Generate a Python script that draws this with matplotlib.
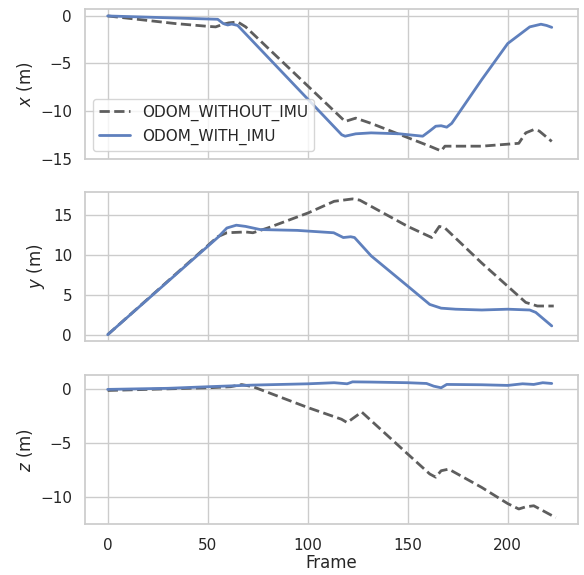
import matplotlib
matplotlib.use("Agg")
import matplotlib.pyplot as plt
import seaborn as sns

# values: (frame, metres)
x_without_f = [0, 33.8, 50.4, 54, 57.8, 60.5, 65, 69, 118.7, 124, 131.7, 150, 161, 166.7, 168.6, 187, 205.5, 209, 213, 215.7, 222]
x_without_v = [0, -0.8, -1.1, -1.15, -0.87, -0.73, -0.63, -1.15, -11.1, -10.75, -11.3, -12.8, -13.7, -14.2, -13.7, -13.7, -13.4, -12.3, -11.96, -12.1, -13.2]
x_with_f = [0, 55, 57.8, 60, 62, 65, 117, 118.7, 124, 131.7, 146, 157.5, 161, 164, 166.7, 169.5, 172, 187, 200, 211, 216.6, 219.4, 222]
x_with_v = [0, -0.35, -0.8, -0.95, -0.85, -1.0, -12.5, -12.65, -12.4, -12.3, -12.4, -12.65, -12.1, -11.6, -11.55, -11.7, -11.3, -6.7, -2.9, -1.15, -0.87, -1.0, -1.2]

y_without_f = [0, 55, 59.6, 68.9, 72.6, 80, 100.3, 113.2, 122.4, 126, 150, 162, 165.8, 168.6, 187, 209, 214.8, 223]
y_without_v = [0, 12.3, 12.8, 12.9, 12.8, 13.4, 15.3, 16.75, 17.05, 16.9, 13.6, 12.2, 13.6, 13.4, 9.0, 4.05, 3.6, 3.6]
y_with_f = [0, 55, 59.6, 64.3, 68.9, 76.3, 94.7, 113, 117.8, 121.5, 123.4, 131.7, 150, 161, 166.7, 174, 187, 200, 211, 214, 222]
y_with_v = [0, 12.2, 13.4, 13.75, 13.6, 13.2, 13.1, 12.8, 12.2, 12.3, 12.2, 9.9, 6.1, 3.8, 3.33, 3.2, 3.1, 3.2, 3.1, 2.8, 1.1]

z_without_f = [0, 30, 50.4, 61.5, 67, 72.6, 100.3, 116.9, 119.7, 127, 150, 161, 164, 166.7, 170.5, 187, 200, 205.5, 209, 213, 224]
z_without_v = [-0.1, 0.05, 0.15, 0.25, 0.45, 0.25, -1.7, -2.77, -3.08, -2.1, -6.0, -7.85, -8.15, -7.55, -7.4, -9.1, -10.6, -11.1, -10.9, -10.8, -11.9]
z_with_f = [0, 30, 50.4, 72.6, 100.3, 113.2, 119.7, 122.4, 131.7, 150, 159.4, 163, 166.7, 169.5, 187, 200, 207.4, 213, 217.5, 222]
z_with_v = [0, 0.1, 0.25, 0.4, 0.52, 0.62, 0.52, 0.7, 0.68, 0.62, 0.55, 0.3, 0.15, 0.46, 0.43, 0.37, 0.52, 0.46, 0.62, 0.55]

sns.set_theme(style="whitegrid")

fig, axes = plt.subplots(3, 1, figsize=(5.84, 5.75), dpi=100, sharex=True)
fig.subplots_adjust(left=0.146, right=0.99, top=0.984, bottom=0.088, hspace=0.225)

gray = "#5e5e5e"
blue = "#5f80bd"

panels = [
    (x_without_f, x_without_v, x_with_f, x_with_v, "$x$ (m)"),
    (y_without_f, y_without_v, y_with_f, y_with_v, "$y$ (m)"),
    (z_without_f, z_without_v, z_with_f, z_with_v, "$z$ (m)"),
]

for ax, (wf, wv, f, v, label) in zip(axes, panels):
    ax.plot(wf, wv, color=gray, linestyle="--", linewidth=2, label="ODOM_WITHOUT_IMU")
    ax.plot(f, v, color=blue, linewidth=2, label="ODOM_WITH_IMU")
    ax.set_ylabel(label, fontsize=12)
    ax.tick_params(labelsize=11)

axes[0].set_yticks([0, -5, -10, -15])
axes[1].set_yticks([0, 5, 10, 15])
axes[2].set_yticks([0, -5, -10])
axes[2].set_xticks([0, 50, 100, 150, 200])
axes[2].set_xlabel("Frame", fontsize=12, labelpad=1)
axes[0].legend(loc="lower left", fontsize=11)

plt.savefig("out.png")
